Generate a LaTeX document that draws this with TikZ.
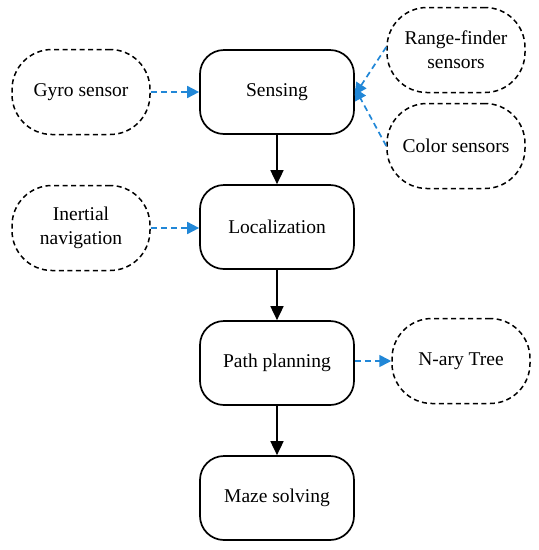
\documentclass[tikz,border=0pt]{standalone}
\usepackage{fontspec}
\setmainfont{Liberation Serif}
\usetikzlibrary{arrows.meta}
\definecolor{arrowblue}{RGB}{33,135,215}
\begin{document}
\begin{tikzpicture}[x=1pt,y=-1pt,
  mainbox/.style={draw=black, line width=1.7pt, rounded corners=24pt, minimum width=154pt, minimum height=84pt, inner sep=0pt, align=center, font=\fontsize{19.5}{24}\selectfont},
  sidebox/.style={draw=black, line width=1.5pt, dash pattern=on 5pt off 3.5pt, rounded corners=40pt, minimum width=138pt, minimum height=85pt, inner sep=0pt, align=center, font=\fontsize{19.5}{24}\selectfont},
  flow/.style={draw=black, line width=1.7pt, -{Triangle[length=14pt,width=13pt]}},
  feed/.style={draw=arrowblue, line width=1.7pt, dash pattern=on 6pt off 4pt, -{Triangle[length=12pt,width=12pt]}}
]
\useasboundingbox (0,0) rectangle (539,550);
\node[mainbox] (sense) at (277,92) {Sensing};
\node[mainbox] (loc) at (277,227) {Localization};
\node[mainbox] (path) at (277,363) {Path planning};
\node[mainbox] (maze) at (277,498) {Maze solving};
\node[sidebox] (gyro) at (81,92) {Gyro sensor};
\node[sidebox] (inert) at (81,228) {Inertial\\navigation};
\node[sidebox] (range) at (456,50) {Range-finder\\sensors};
\node[sidebox] (color) at (456,146) {Color sensors};
\node[sidebox] (tree) at (461,361) {N-ary Tree};
\draw[flow] (sense) -- (loc);
\draw[flow] (loc) -- (path);
\draw[flow] (path) -- (maze);
\draw[feed] (gyro) -- (sense);
\draw[feed] (inert.east) -- (loc.west |- inert.east);
\draw[feed] ([yshift=3pt]range.west) -- ([yshift=-3pt]sense.east);
\draw[feed] (color.west) -- ([yshift=4pt]sense.east);
\draw[feed] (path.east |- tree.west) -- (tree.west);
\end{tikzpicture}
\end{document}
